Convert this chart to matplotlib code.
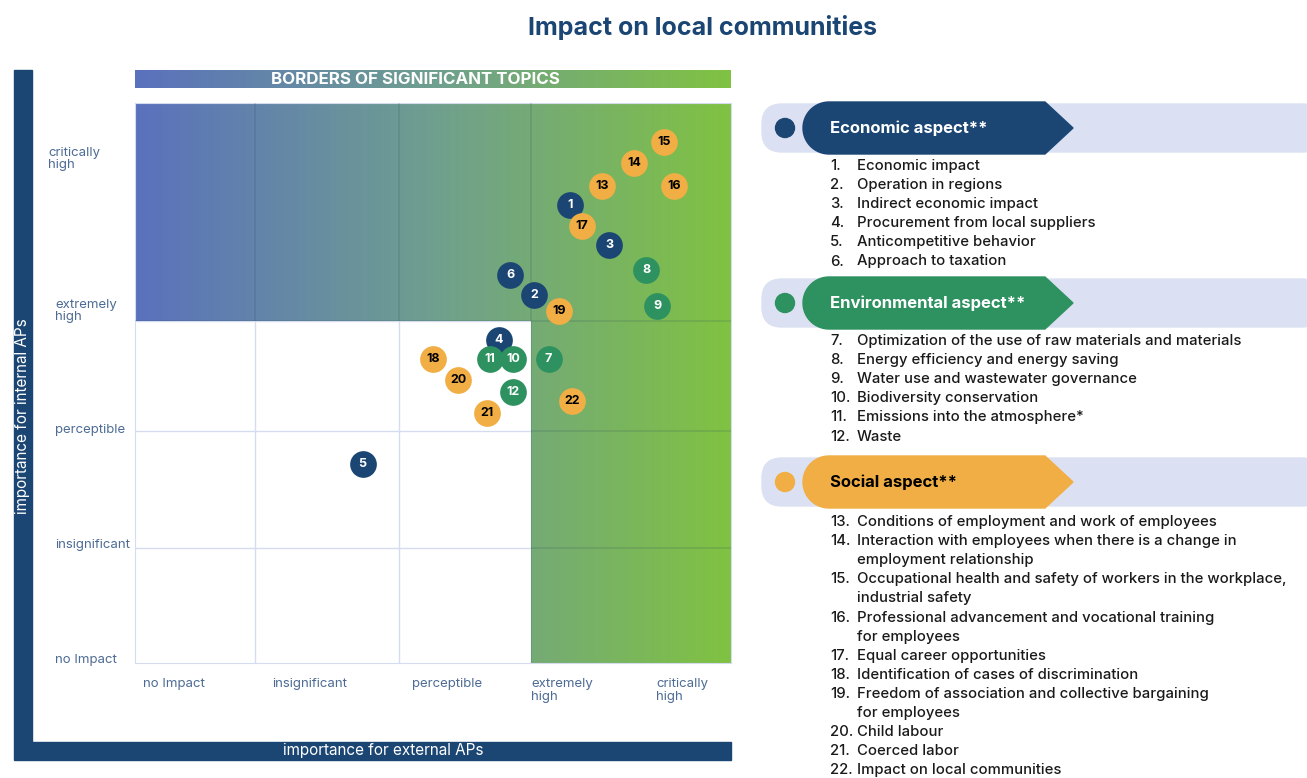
import numpy as np
import matplotlib.pyplot as plt
from matplotlib.path import Path
from matplotlib.patches import PathPatch, Rectangle, FancyBboxPatch, Circle
from matplotlib.colors import LinearSegmentedColormap

plt.rcParams['font.family'] = ['Inter', 'DejaVu Sans']

# ---- data: score for external APs (x) and internal APs (y), 0..5 ----
topic_ids = [1, 2, 3, 4, 5, 6,
             7, 8, 9, 10, 11, 12,
             13, 14, 15, 16, 17, 18, 19, 20, 21, 22]
ext_score = [3.65, 3.35, 3.98, 3.05, 1.91, 3.15,
             3.47, 4.29, 4.38, 3.17, 2.98, 3.17,
             3.92, 4.19, 4.44, 4.52, 3.75, 2.50, 3.56, 2.71, 2.95, 3.67]
int_score = [4.09, 3.29, 3.73, 2.88, 1.78, 3.46,
             2.71, 3.51, 3.19, 2.71, 2.71, 2.42,
             4.26, 4.46, 4.65, 4.26, 3.90, 2.71, 3.14, 2.53, 2.23, 2.34]
topic_group = ['eco'] * 6 + ['env'] * 6 + ['soc'] * 10

x_levels = ['no Impact', 'insignificant', 'perceptible', 'extremely\nhigh', 'critically\nhigh']
y_levels = ['no Impact', 'insignificant', 'perceptible', 'extremely\nhigh', 'critically\nhigh']
x_borders = [1.007, 2.215, 3.32]
y_borders = [1.03, 2.07, 3.05]

eco_items = ['Economic impact', 'Operation in regions', 'Indirect economic impact',
             'Procurement from local suppliers', 'Anticompetitive behavior',
             'Approach to taxation']
env_items = ['Optimization of the use of raw materials and materials',
             'Energy efficiency and energy saving',
             'Water use and wastewater governance', 'Biodiversity conservation',
             'Emissions into the atmosphere*', 'Waste']
soc_items = ['Conditions of employment and work of employees',
             'Interaction with employees when there is a change in\nemployment relationship',
             'Occupational health and safety of workers in the workplace,\nindustrial safety',
             'Professional advancement and vocational training\nfor employees',
             'Equal career opportunities', 'Identification of cases of discrimination',
             'Freedom of association and collective bargaining\nfor employees',
             'Child labour', 'Coerced labor', 'Impact on local communities']

NAVY = '#1b4674'
GREEN = '#2e9160'
ORANGE = '#f0ae44'
LAV = '#dbe1f2'
TICK = '#4d6b94'
colors = {'eco': NAVY, 'env': GREEN, 'soc': ORANGE}
grad = LinearSegmentedColormap.from_list('g', ['#5a71bd', '#6f9f8f', '#80c242'])

fig = plt.figure(figsize=(13.07, 7.78), dpi=100)

# overlay axes in pixel coordinates for decorations
bg = fig.add_axes([0, 0, 1, 1])
bg.set_xlim(0, 1307)
bg.set_ylim(778, 0)
bg.axis('off')

bg.text(703, 27, 'Impact on local communities', ha='center', va='center',
        fontsize=18, fontweight='bold', color=NAVY)

# frame bars
bg.add_patch(Rectangle((14, 70), 18, 690, color=NAVY))
bg.add_patch(Rectangle((32, 742), 699, 18, color=NAVY))
bg.text(23, 416, 'importance for internal APs', rotation=90, ha='center', va='center',
        color='white', fontsize=11)
bg.text(383, 751, 'importance for external APs', ha='center', va='center',
        color='white', fontsize=11)

# header bar with gradient
bg.imshow(np.linspace(0, 1, 256)[None, :], cmap=grad, aspect='auto',
          extent=[135, 731, 88, 70], zorder=1)
bg.text(415, 79, 'BORDERS OF SIGNIFICANT TOPICS', ha='center', va='center',
        color='white', fontsize=12.2, fontweight='bold', zorder=2)

# level labels
y_lab_pos = [(55, 660), (55, 545), (55, 430), (55, 311), (48, 159)]
for lab, (px, py) in zip(y_levels, y_lab_pos):
    bg.text(px, py, lab, ha='left', va='center', color=TICK, fontsize=9.5,
            linespacing=1.1)
x_lab_pos = [143, 272, 412, 531, 656]
for lab, px in zip(x_levels, x_lab_pos):
    bg.text(px, 678, lab, ha='left', va='top', color=TICK, fontsize=9.5,
            linespacing=1.1)

# ---- main matrix ----
ax = fig.add_axes([135 / 1307, 115 / 778, 596 / 1307, 560 / 778])
ax.set_xlim(0, 5)
ax.set_ylim(0, 5)
ax.set_facecolor('none')
for s in ax.spines.values():
    s.set_color('#d5dcef')
ax.set_xticks([])
ax.set_yticks([])

for xb in x_borders:
    ax.axvline(xb, color='#d5dcef', lw=1, zorder=1)
for yb in y_borders:
    ax.axhline(yb, color='#d5dcef', lw=1, zorder=1)

xb3, yb3 = x_borders[-1], y_borders[-1]
verts = [(0, yb3), (0, 5), (5, 5), (5, 0), (xb3, 0), (xb3, yb3), (0, yb3)]
clip = PathPatch(Path(verts, closed=True), transform=ax.transData,
                 facecolor='none', edgecolor='none')
ax.add_patch(clip)
im = ax.imshow(np.linspace(0, 1, 256)[None, :], cmap=grad, aspect='auto',
               extent=[0, 5, 0, 5], zorder=2)
im.set_clip_path(clip)
for xb in x_borders:
    ln = ax.axvline(xb, color='#2a4a5a', alpha=0.18, lw=1.2, zorder=3)
    ln.set_clip_path(clip)
for yb in y_borders:
    ln = ax.axhline(yb, color='#2a4a5a', alpha=0.18, lw=1.2, zorder=3)
    ln.set_clip_path(clip)

for tid, xv, yv, g in zip(topic_ids, ext_score, int_score, topic_group):
    ax.scatter(xv, yv, s=370, color=colors[g], zorder=5, linewidths=0)
    ax.text(xv, yv, str(tid), ha='center', va='center', fontsize=9,
            fontweight='bold', color='black' if g == 'soc' else 'white', zorder=6)


# ---- legend panels ----
def banner(cy, color, title, tcolor):
    bg.add_patch(FancyBboxPatch((762, cy - 24), 560, 48,
                                boxstyle='round,pad=0,rounding_size=20',
                                color=LAV, zorder=1))
    r = 26
    ang = np.linspace(np.pi / 2, 3 * np.pi / 2, 40)
    pts = [(829 + r * np.cos(a), cy - r * np.sin(a)) for a in ang]
    pts += [(1045, cy + r), (1073, cy), (1045, cy - r)]
    bg.add_patch(plt.Polygon(pts, closed=True, color=color, zorder=2))
    bg.add_patch(Circle((785, cy), 9.5, color=color, zorder=2))
    bg.text(830, cy, title, ha='left', va='center', color=tcolor,
            fontsize=12, fontweight='bold', zorder=3)


def items(y0, start, lst):
    y = y0
    for i, t in enumerate(lst):
        bg.text(830, y, f'{start + i}.', ha='left', va='center', fontsize=10.7,
                color='#1a1a1a', fontweight='medium')
        for part in t.split('\n'):
            bg.text(857, y, part, ha='left', va='center', fontsize=10.7,
                    color='#1a1a1a', fontweight='medium')
            y += 19.1


banner(128, NAVY, 'Economic aspect**', 'white')
items(166, 1, eco_items)
banner(303, GREEN, 'Environmental aspect**', 'white')
items(341, 7, env_items)
banner(482, ORANGE, 'Social aspect**', 'black')
items(522, 13, soc_items)

fig.savefig('out.png', dpi=100)
